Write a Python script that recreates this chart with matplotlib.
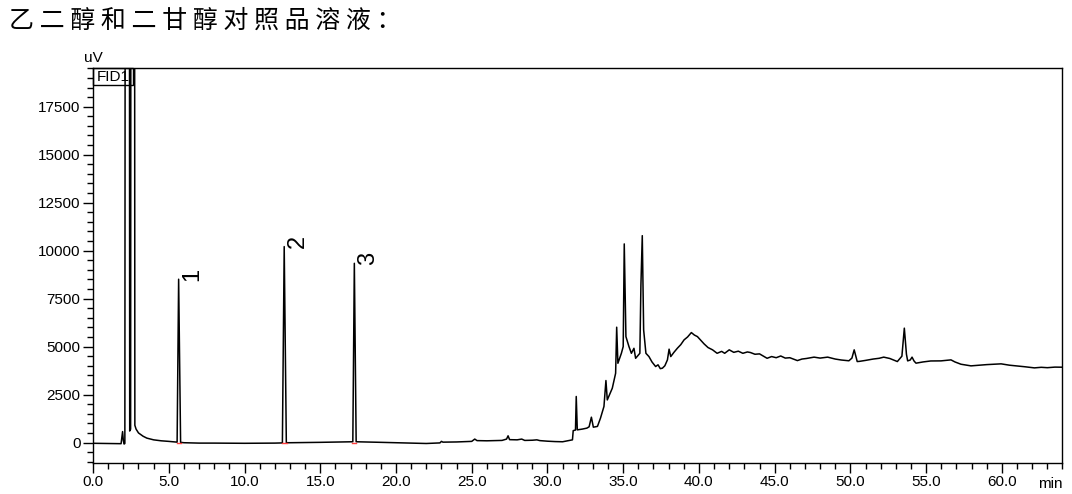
import matplotlib
matplotlib.use('Agg')
import matplotlib.pyplot as plt
from matplotlib.ticker import MultipleLocator, FixedLocator
from matplotlib.patches import Rectangle

plt.rcParams['font.family'] = ['Liberation Sans', 'DejaVu Sans']

# chromatogram trace (min, uV); off-scale solvent peak clipped by axis
times = [0.0, 1.0, 1.85, 1.95, 2.0, 2.05, 2.1, 2.15, 2.38, 2.42, 2.48, 2.52, 2.72, 2.76, 2.84,
         3.0, 3.3, 3.55, 4.0, 4.5, 5.0, 5.55, 5.65, 5.78, 6.0, 7.0, 8.0, 10.0, 12.0, 12.5,
         12.62, 12.76, 13.0, 15.0, 17.0, 17.15, 17.25, 17.37, 18.0, 19.0, 20.0, 21.0, 22.0,
         22.9, 23.0, 23.1, 24.0, 25.0, 25.2, 25.35, 26.0, 27.0, 27.3, 27.4, 27.5, 28.0, 28.3,
         28.5, 29.0, 29.3, 29.5, 30.0, 30.5, 31.0, 31.5, 31.65, 31.7, 31.85, 31.9, 31.97,
         32.3, 32.6, 32.75, 32.9, 33.03, 33.3, 33.5, 33.73, 33.86, 33.95, 34.1, 34.28, 34.5,
         34.57, 34.65, 34.88, 35.0, 35.07, 35.18, 35.38, 35.54, 35.71, 35.82, 36.1, 36.17,
         36.26, 36.35, 36.5, 36.7, 36.9, 37.14, 37.3, 37.45, 37.59, 37.75, 37.92, 38.03,
         38.14, 38.35, 38.58, 38.8, 39.02, 39.25, 39.5, 39.7, 39.9, 40.1, 40.34, 40.6, 40.9,
         41.2, 41.5, 41.7, 42.0, 42.3, 42.6, 42.9, 43.2, 43.4, 43.7, 44.0, 44.5, 44.8,
         45.1, 45.4, 45.7, 46.0, 46.5, 46.8, 47.1, 47.6, 48.0, 48.5, 49.0, 49.4, 49.9, 50.1,
         50.25, 50.45, 50.6, 51.0, 51.5, 51.9, 52.2, 52.6, 53.1, 53.4, 53.56, 53.7, 53.78,
         53.95, 54.07, 54.2, 54.33, 54.8, 55.3, 55.98, 56.3, 56.64, 56.9, 57.3, 57.96, 58.5,
         59.0, 59.5, 59.95, 60.5, 61.0, 61.5, 62.15, 62.6, 63.0, 63.5, 64.0]
signal = [-40, -50, -60, 570, 100, -80, -50, 60000, 60000, 600, 700, 60000, 60000, 900, 700,
          500, 330, 230, 140, 90, 60, 20, 8510, 10, -10, -30, -30, -40, -30, -20,
          10210, -10, -10, 10, 40, 40, 9340, 40, 30, 10, -10, -30, -50,
          -20, 60, 20, 30, 60, 180, 100, 90, 110, 180, 350, 150, 140, 180,
          110, 120, 140, 100, 70, 50, 40, 120, 140, 620, 650, 2400, 660,
          700, 750, 820, 1320, 800, 840, 1270, 1880, 3230, 2220, 2500, 2830, 3610,
          6010, 4130, 4650, 5000, 10350, 5520, 5000, 4650, 4910, 4390, 4650, 8210,
          10780, 5870, 4650, 4480, 4200, 3960, 4050, 3850, 3875, 4000, 4307, 4865,
          4480, 4700, 4917, 5100, 5350, 5500, 5730, 5600, 5520, 5350, 5140, 4950, 4830,
          4650, 4750, 4650, 4830, 4700, 4760, 4650, 4720, 4690, 4600, 4620, 4390, 4480,
          4420, 4510, 4400, 4420, 4270, 4350, 4380, 4450, 4400, 4450, 4350, 4300, 4260, 4400,
          4830, 4220, 4230, 4280, 4350, 4390, 4450, 4380, 4220, 4500, 5960, 4600, 4255,
          4300, 4450, 4250, 4135, 4200, 4250, 4255, 4280, 4307, 4200, 4080, 3995, 4030,
          4060, 4080, 4100, 4030, 3990, 3950, 3890, 3920, 3900, 3930, 3925]

# numbered peaks
peakLabels = ['1', '2', '3']
peakTimes = [5.65, 12.62, 17.25]
peakHeights = [8510, 10210, 9340]
# integration baseline marks (start, end) at peak feet
peakStarts = [5.55, 12.48, 17.12]
peakEnds = [5.80, 12.78, 17.38]

fig = plt.figure(figsize=(10.72, 4.94), dpi=100)
ax = fig.add_axes([0.0868, 0.0634, 0.9043, 0.7983])

ax.plot(times, signal, color='black', linewidth=1.1)
for s, e in zip(peakStarts, peakEnds):
    ax.plot([s, e], [0, 0], color='#ff4040', linewidth=1.0)

for lab, t, h in zip(peakLabels, peakTimes, peakHeights):
    ax.text(t + 0.2, h - 80, lab, rotation=90, ha='left', va='bottom', fontsize=17)

ax.set_xlim(0, 64.0)
ax.set_ylim(-1050, 19500)

ax.xaxis.set_major_locator(MultipleLocator(5))
ax.xaxis.set_minor_locator(MultipleLocator(1))
ax.xaxis.set_major_formatter(matplotlib.ticker.FormatStrFormatter('%.1f'))
ax.yaxis.set_major_locator(FixedLocator([0, 2500, 5000, 7500, 10000, 12500, 15000, 17500]))
ax.yaxis.set_minor_locator(MultipleLocator(500))

ax.tick_params(axis='both', which='major', direction='out', length=7, width=1, labelsize=11, pad=2)
ax.tick_params(axis='both', which='minor', direction='out', length=4, width=1)
for sp in ax.spines.values():
    sp.set_linewidth(1.0)

# axis units and detector tag
ax.text(0.0, 1.008, 'uV', transform=ax.transAxes, ha='center', va='bottom', fontsize=11)
ax.text(1.0, -0.036, 'min', transform=ax.transAxes, ha='right', va='top', fontsize=11)
ax.add_patch(Rectangle((0, 0.957), 0.0413, 0.043, transform=ax.transAxes, fill=False,
                       edgecolor='black', linewidth=1, clip_on=False))
ax.text(0.0206, 0.978, 'FID1', transform=ax.transAxes, ha='center', va='center', fontsize=11)

fig.text(0.008, 0.958, '乙 二 醇 和 二 甘 醇 对 照 品 溶 液 ：', ha='left', va='center',
         fontsize=18, family=['Noto Sans CJK SC', 'DejaVu Sans'])

plt.savefig('out.png', dpi=100)
plt.close()
